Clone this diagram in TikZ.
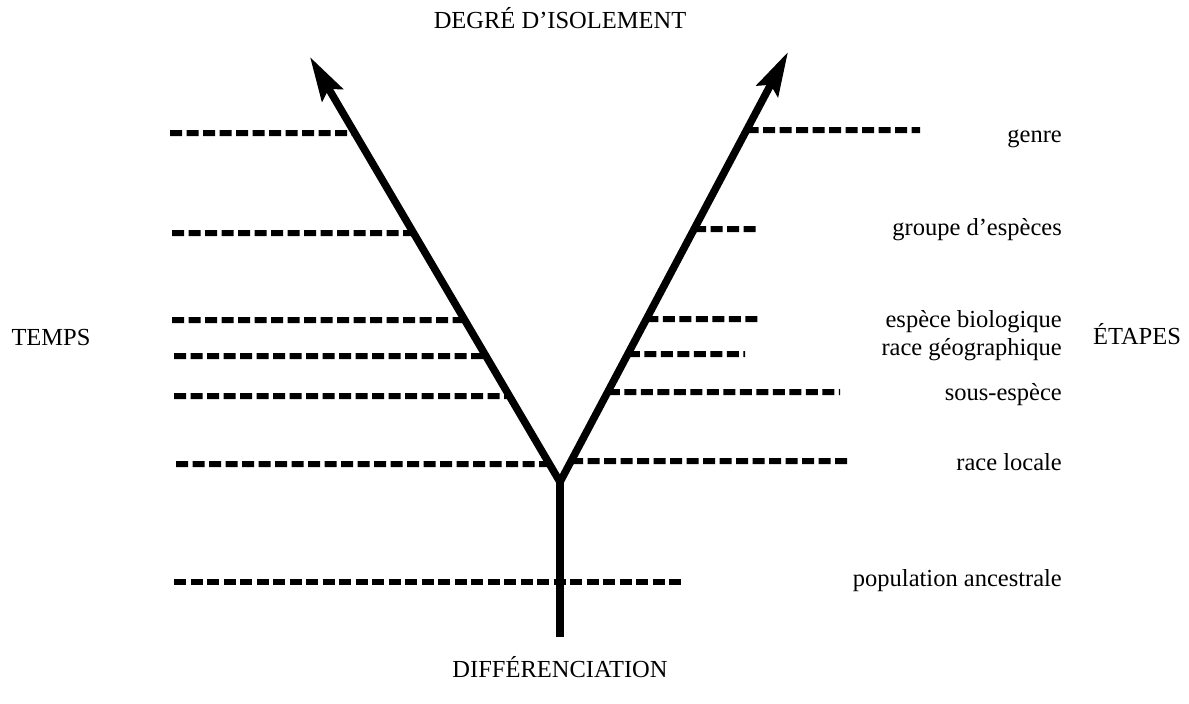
\documentclass[tikz,border=0pt]{standalone}
\usepackage{fontspec}
\setmainfont{Liberation Serif}
\usetikzlibrary{arrows.meta}
\tikzset{
  stage/.style={anchor=base east,inner sep=0pt,
    font=\fontsize{24.5}{26}\selectfont},
  heading/.style={anchor=base,inner sep=0pt,
    font=\fontsize{24.5}{26}\selectfont},
  stem/.style={line width=7.5pt},
  branch/.style={line width=7.5pt,line join=round,
    {Stealth[length=44pt,width=24pt,inset=7pt]}-{Stealth[length=44pt,width=24pt,inset=7pt]}},
  level/.style={line width=6pt,dash pattern=on 12pt off 4.5pt}
}

\begin{document}
\begin{tikzpicture}[x=1pt,y=-1pt]
\useasboundingbox (0,0) rectangle (1189,704);

\coordinate (base) at (560,637);
\coordinate (fork) at (560,482);
\coordinate (tipL) at (310,57);
\coordinate (tipR) at (788,52);

% levels, left of the fork
\foreach \yy/\xx in {133/170,233/172,320/172,356/174,396/174,464/176}
  \draw[level] (\xx,\yy) -- (intersection cs: first line={(fork)--(tipL)},
    second line={(0,\yy)--(1,\yy)});
% levels, right of the fork
\foreach \yy/\xx in {130/920,229/758,319/758,354/745,392/840,461/850}
  \draw[level] (intersection cs: first line={(fork)--(tipR)},
    second line={(0,\yy)--(1,\yy)}) -- (\xx,\yy);
\draw[level] (174,582) -- (683,582);

\draw[stem] (base) -- (fork);
\draw[branch] (tipL) -- (fork) -- (tipR);

\node[stage] (genre) at (1062,142) {genre};
\node[stage] (groupe) at (1062,235) {groupe d’espèces};
\node[stage] (espece) at (1062,327) {espèce biologique};
\node[stage] (raceg) at (1062,355) {race géographique};
\node[stage] (sousesp) at (1062,400) {sous-espèce};
\node[stage] (racel) at (1062,470) {race locale};
\node[stage] (popanc) at (1062,586) {population ancestrale};

\node[heading] (temps) at (51,345) {TEMPS};
\node[heading] (etapes) at (1137,344) {ÉTAPES};
\node[heading] (degre) at (560,28) {DEGRÉ D’ISOLEMENT};
\node[heading] (diff) at (560,677) {DIFFÉRENCIATION};
\end{tikzpicture}
\end{document}
